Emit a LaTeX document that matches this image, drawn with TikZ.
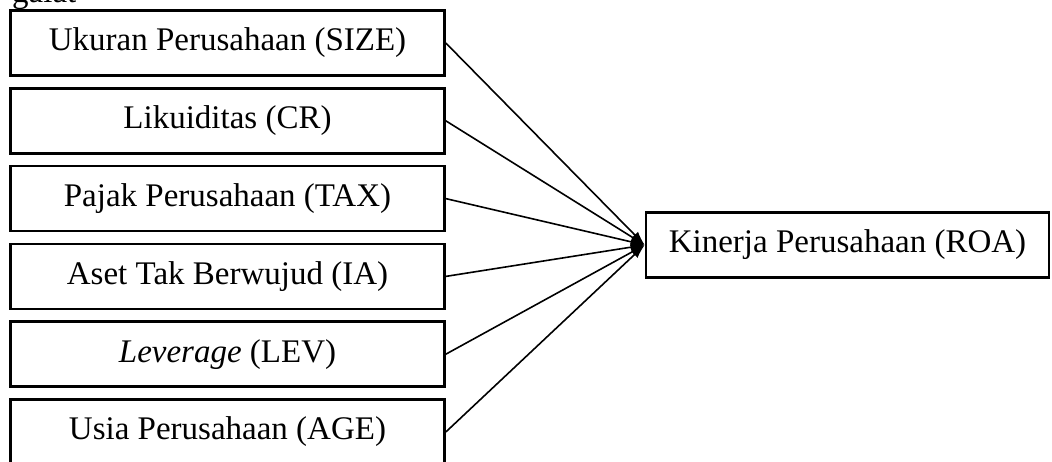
\documentclass[tikz,border=0pt]{standalone}
\usepackage{fontspec}
\setmainfont{Liberation Serif}
\usetikzlibrary{arrows.meta}
\begin{document}
\begin{tikzpicture}[x=1pt,y=-1pt,
  varbox/.style={draw,line width=2.6pt,minimum width=434pt,minimum height=65pt,inner sep=0pt,font=\fontsize{33}{38}\selectfont},
  roabox/.style={draw,line width=2.6pt,minimum width=403pt,minimum height=65pt,inner sep=0pt,font=\fontsize{33}{38}\selectfont},
  conn/.style={line width=1.6pt,-{Latex[length=14pt,width=9pt]}}]
\useasboundingbox (0,0) rectangle (1052,461);
\node[anchor=base west,font=\fontsize{33}{38}\selectfont,inner sep=0pt] (top) at (12,2) {galat};
\node[varbox] (size) at (227.5,43) {Ukuran Perusahaan (SIZE)};
\node[varbox] (cr) at (227.5,120.8) {Likuiditas (CR)};
\node[varbox] (tax) at (227.5,198.6) {Pajak Perusahaan (TAX)};
\node[varbox] (ia) at (227.5,276.4) {Aset Tak Berwujud (IA)};
\node[varbox] (lev) at (227.5,354.2) {\textit{Leverage} (LEV)};
\node[varbox] (age) at (227.5,432) {Usia Perusahaan (AGE)};
\node[roabox] (roa) at (847.5,245) {Kinerja Perusahaan (ROA)};
\foreach \n in {size,cr,tax,ia,lev,age}
  \draw[conn] (\n.east) -- (roa.west);
\end{tikzpicture}
\end{document}
